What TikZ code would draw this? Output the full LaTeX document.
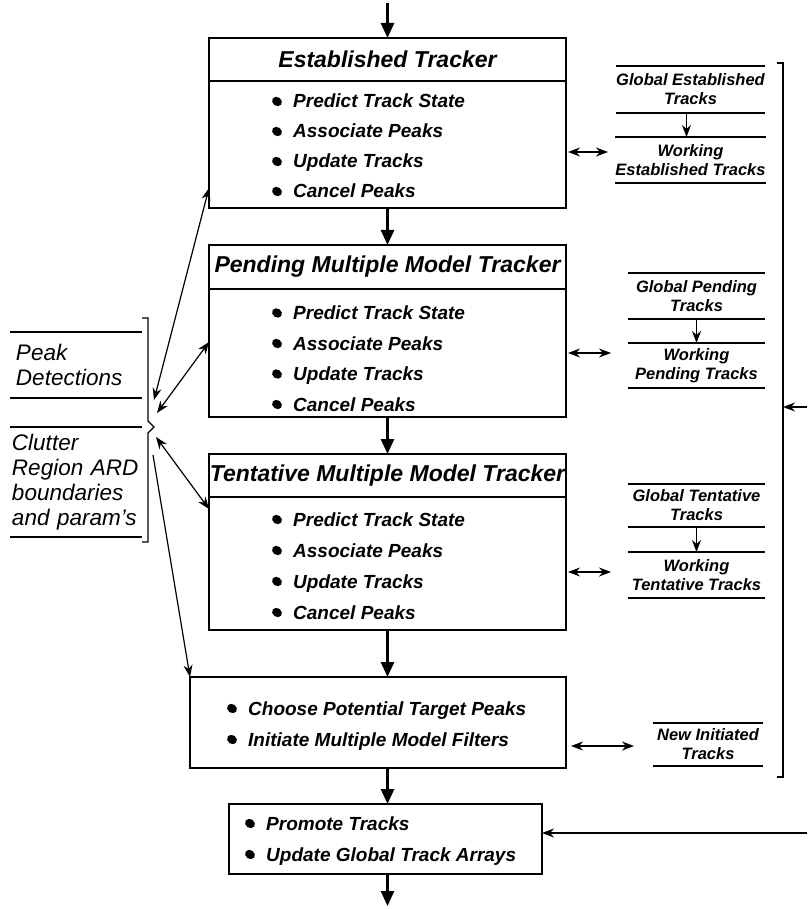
\documentclass[tikz,border=0pt]{standalone}
\usepackage{fontspec}
\setmainfont{Liberation Sans}
\usetikzlibrary{arrows.meta,positioning,calc}
\tikzset{%
  head/.style      = {draw, line width=1.3pt, outer sep=0pt, inner sep=0pt,%
                      minimum width=357pt, minimum height=43pt,%
                      font=\fontsize{23}{27}\selectfont\bfseries\itshape},%
  body/.style      = {draw, line width=1.3pt, outer sep=0pt, inner sep=0pt,%
                      minimum width=357pt},%
  item/.style      = {anchor=base west, inner sep=0pt,%
                      font=\fontsize{19}{23}\selectfont\bfseries\itshape},%
  store/.style     = {align=center, inner sep=0pt, outer sep=0pt,%
                      minimum width=137pt,%
                      font=\fontsize{16.5}{19}\selectfont\bfseries\itshape},%
  src/.style       = {align=left, inner sep=0pt, outer sep=0pt,%
                      minimum width=132pt,%
                      font=\fontsize{22.5}{25}\selectfont\itshape},%
  storeline/.style = {line width=2pt},%
  flow/.style      = {line width=2.6pt, -{Triangle[length=15pt,width=13pt]}},%
  link/.style      = {line width=1.2pt, -{Stealth[length=12pt,width=9pt]}},%
  dblink/.style    = {line width=1.2pt,%
                      {Stealth[length=12pt,width=9pt]}-{Stealth[length=12pt,width=9pt]}}%
}
\newcommand\bul[1]{\fill ([shift={(-16pt,6.5pt)}]#1.base west) circle[x radius=5.2pt, y radius=4.4pt, rotate=-35];}
\newcommand\storelines[1]{%
  \draw[storeline] (#1.north west) -- (#1.north east) (#1.south west) -- (#1.south east);}

\begin{document}
\begin{tikzpicture}[x=1pt,y=-1pt]%
	\useasboundingbox (0,0) rectangle (807,909);
	% trackers
	\node[head] (est) at (387.5,59.5) {Established Tracker};
	\node[body, minimum height=127pt, below=0pt of est] (estb) {};
	\foreach \t [count=\i] in {Predict Track State, Associate Peaks, Update Tracks, Cancel Peaks}
		{\node[item] (est-\i) at (293,78+30*\i) {\t}; \bul{est-\i}}
	\node[head, minimum height=44pt] (pend) at (387.5,267) {Pending Multiple Model Tracker};
	\node[body, minimum height=128pt, below=0pt of pend] (pendb) {};
	\foreach \t [count=\i] in {Predict Track State, Associate Peaks, Update Tracks, Cancel Peaks}
		{\node[item] (pend-\i) at (293,289+30.5*\i) {\t}; \bul{pend-\i}}
	\node[head] (tent) at (387.5,475.5) {Tentative Multiple Model Tracker};
	\node[body, minimum height=133pt, below=0pt of tent] (tentb) {};
	\foreach \t [count=\i] in {Predict Track State, Associate Peaks, Update Tracks, Cancel Peaks}
		{\node[item] (tent-\i) at (293,495+31*\i) {\t}; \bul{tent-\i}}
	\node[body, minimum width=376pt, minimum height=91pt] (choose) at (378,722.5) {};
	\foreach \t [count=\i] in {Choose Potential Target Peaks, Initiate Multiple Model Filters}
		{\node[item] (choose-\i) at (248,684+31*\i) {\t}; \bul{choose-\i}}
	\node[body, minimum width=313pt, minimum height=70pt] (promote) at (385.5,839) {};
	\foreach \t [count=\i] in {Promote Tracks, Update Global Track Arrays}
		{\node[item] (promote-\i) at (266,799+31*\i) {\t}; \bul{promote-\i}}
	% main flow
	\coordinate (in) at (387.5,3);
	\coordinate (out) at (387.5,906);
	\draw[flow] (in) -- (est.north);
	\draw[flow] (estb.south) -- (pend.north);
	\draw[flow] (pendb.south) -- (tent.north);
	\draw[flow] (tentb.south) -- (tentb.south |- choose.north);
	\draw[flow] (tentb.south |- choose.south) -- (tentb.south |- promote.north);
	\draw[flow] (tentb.south |- promote.south) -- (out);
	% track arrays
	\node[store, minimum height=47pt] (gest) at (690.5,89.5) {Global Established\\Tracks};
	\node[store, minimum height=46pt] (west) at (690.5,160) {Working\\Established Tracks};
	\node[store, minimum height=46pt] (gpend) at (696.5,296) {Global Pending\\Tracks};
	\node[store, minimum height=45pt] (wpend) at (696.5,365.5) {Working\\Pending Tracks};
	\node[store, minimum height=43pt] (gtent) at (696.5,505.5) {Global Tentative\\Tracks};
	\node[store, minimum height=46pt] (wtent) at (696.5,575) {Working\\Tentative Tracks};
	\node[store, minimum width=110pt, minimum height=43pt] (newtr) at (708,744.5) {New Initiated\\Tracks};
	\storelines{gest}\storelines{west}\storelines{gpend}\storelines{wpend}
	\storelines{gtent}\storelines{wtent}\storelines{newtr}
	\draw[link] ([xshift=-4pt]gest.south) -- ([xshift=-4pt]west.north);
	\draw[link] (gpend.south) -- (wpend.north);
	\draw[link] (gtent.south) -- (wtent.north);
	\coordinate (e1) at (608,152);
	\coordinate (e2) at (611,353);
	\coordinate (e3) at (611,572);
	\coordinate (e4) at (634,746);
	\draw[dblink] ([xshift=2pt]estb.east |- e1) -- (e1);
	\draw[dblink] ([xshift=2pt]pendb.east |- e2) -- (e2);
	\draw[dblink] ([xshift=2pt]tentb.east |- e3) -- (e3);
	\draw[dblink] ([xshift=5pt]choose.east |- e4) -- (e4);
	\draw[storeline] (777,63) -- (783,63) -- (783,777) -- (777,777);
	\coordinate (fb) at (807,407);
	\coordinate (fb2) at (807,833);
	\draw[link] (fb) -- (783,407);
	\draw[link] (fb2) -- (promote.east |- fb2);
	% peak detections and clutter
	\node[src, text width=120pt, minimum height=66pt] (peak) at (76,365) {Peak\\Detections};
	\node[src, text width=128pt, minimum height=110pt] (clut) at (76,482) {Clutter\\Region ARD\\boundaries\\and param's};
	\storelines{peak}\storelines{clut}
	\draw[line width=1.3pt] (142,318) -- (148,318) -- (148,421) -- (154,427) -- (148,433) -- (148,542) -- (142,542);
	\coordinate (s1) at (154,400);
	\coordinate (s2) at (157,413);
	\coordinate (s3) at (156,437);
	\coordinate (s4) at (153,455);
	\draw[dblink] (s1) -- (estb.west |- 0,188);
	\draw[dblink] (s2) -- (pendb.west |- 0,342);
	\draw[dblink] (s3) -- (tentb.west |- 0,509);
	\draw[link] (s4) -- (choose.north west);
\end{tikzpicture}
\end{document}
